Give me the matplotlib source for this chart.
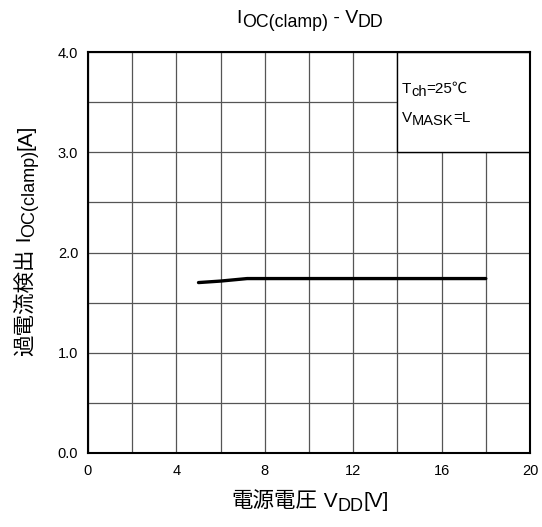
import math
import matplotlib
matplotlib.use("Agg")
import matplotlib.pyplot as plt
from matplotlib.patches import Rectangle
from matplotlib.text import Text
from matplotlib.transforms import IdentityTransform

FAM = ['Liberation Sans', 'Noto Sans CJK JP', 'DejaVu Sans']
plt.rcParams['font.family'] = FAM

vdd = [5.0, 6.0, 7.2, 10.0, 14.0, 18.0]
ioc = [1.70, 1.715, 1.74, 1.74, 1.74, 1.74]
xticks = [0, 4, 8, 12, 16, 20]
yticks = [0.0, 1.0, 2.0, 3.0, 4.0]

fig = plt.figure(figsize=(5.42, 5.27), dpi=100)
ax = fig.add_axes([88/542, 1-453/527, 442/542, 401/527])
ax.set_xlim(0, 20)
ax.set_ylim(0, 4)
ax.set_xticks(xticks)
ax.set_yticks(yticks)
ax.set_yticklabels([f"{v:.1f}" for v in yticks])
ax.set_xticks([x for x in range(0, 21, 2)], minor=True)
ax.set_yticks([y * 0.5 for y in range(9)], minor=True)
ax.grid(True, which='both', color='#555555', linewidth=0.9)
ax.tick_params(which='both', length=0, labelsize=10.5)
ax.tick_params(axis='x', pad=8)
ax.tick_params(axis='y', pad=7)
for s in ax.spines.values():
    s.set_linewidth(1.5)
    s.set_color('black')

ax.add_patch(Rectangle((14, 3), 6, 1, facecolor='white', edgecolor='black',
                       linewidth=1.0, zorder=2.5))
ax.plot(vdd, ioc, color='black', linewidth=2.4, zorder=4, solid_capstyle='round')


def rich(x, y, pieces, rotation=0, ha='center'):
    r = fig.canvas.get_renderer()
    th = math.radians(rotation)
    along = (math.cos(th), math.sin(th))
    up = (-math.sin(th), math.cos(th))
    widths = []
    for s, size, shift in pieces:
        t = Text(0, 0, s, fontsize=size, fontfamily=FAM)
        t.set_figure(fig)
        widths.append(t.get_window_extent(r).width)
    W = sum(widths)
    off = -W / 2 if ha == 'center' else (0 if ha == 'left' else -W)
    for (s, size, shift), w in zip(pieces, widths):
        px = x + along[0] * off + up[0] * shift
        py = y + along[1] * off + up[1] * shift
        fig.text(px, py, s, fontsize=size, fontfamily=FAM, rotation=rotation,
                 rotation_mode='anchor', ha='left', va='baseline',
                 transform=IdentityTransform(), zorder=5)
        off += w


# title
rich(310, 504, [("I", 14, 0), ("OC(clamp)", 12.8, -4), (" - V", 14, 0), ("DD", 12.8, -4)])
# x label
rich(310, 20, [("電源電圧", 15.5, 0), (" V", 15, 0), ("DD", 13, -4), ("[V]", 15, 0)])
# y label
rich(31, 287, [("過電流検出", 15.5, 0), (" I", 15, 0), ("OC(clamp)", 13, -3.5), ("[A]", 15, 0)],
     rotation=90)
# inset texts
px, py = ax.transData.transform((14.2, 3.59))
rich(px, py, [("T", 11, 0), ("ch", 10.5, -3), ("=25℃", 11, 0)], ha='left')
px, py = ax.transData.transform((14.2, 3.30))
rich(px, py, [("V", 11, 0), ("MASK", 10.5, -3), ("=L", 11, 0)], ha='left')

fig.savefig('out.png', dpi=100)
